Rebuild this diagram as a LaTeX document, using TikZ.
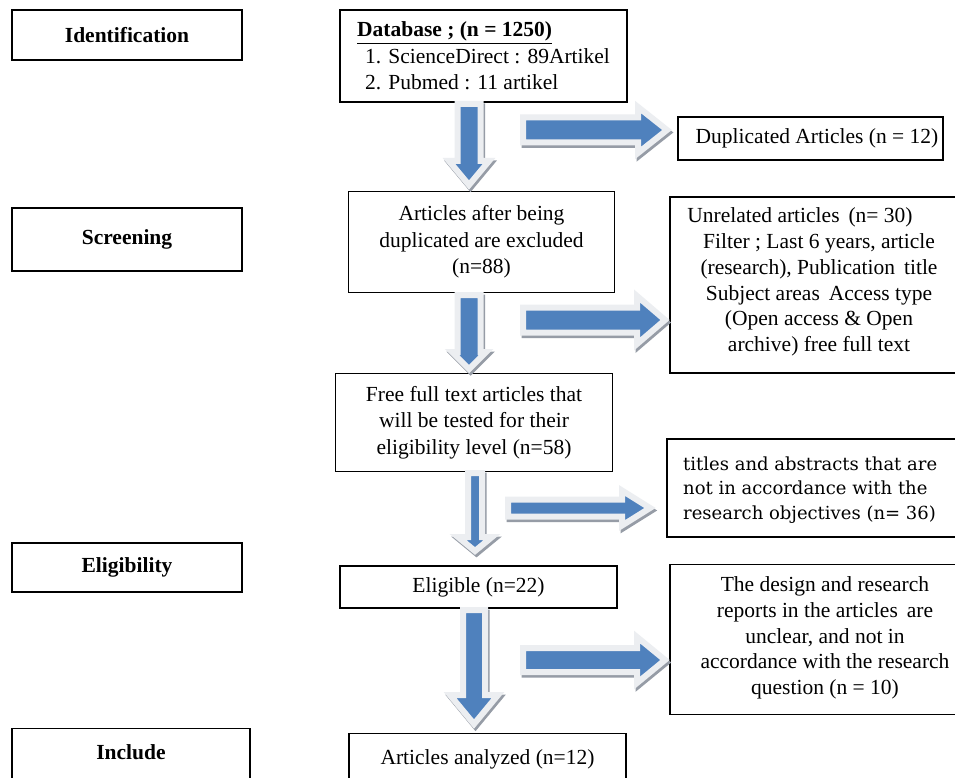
\documentclass[tikz,border=0pt]{standalone}
\usepackage{fontspec}
\setmainfont{Liberation Serif}
\newfontfamily\slabfont{DejaVu Serif}
\definecolor{arrblue}{RGB}{79,129,189}
\definecolor{arredge}{RGB}{236,238,241}
\definecolor{arrshade}{RGB}{150,156,166}
\newcommand\DArrow[6]{% cx, y top, y tip, shaft half, head half, head length
  \path[arrshadow] (#1-#4,#2) -- (#1-#4,#3-#6) -- (#1-#5,#3-#6) -- (#1,#3) -- (#1+#5,#3-#6) -- (#1+#4,#3-#6) -- (#1+#4,#2) -- cycle;
  \path[arrbody] (#1-#4,#2) -- (#1-#4,#3-#6) -- (#1-#5,#3-#6) -- (#1,#3) -- (#1+#5,#3-#6) -- (#1+#4,#3-#6) -- (#1+#4,#2) -- cycle;
}
\newcommand\RArrow[6]{% x left, x tip, cy, shaft half, head half, head length
  \path[arrshadow] (#1,#3-#4) -- (#2-#6,#3-#4) -- (#2-#6,#3-#5) -- (#2,#3) -- (#2-#6,#3+#5) -- (#2-#6,#3+#4) -- (#1,#3+#4) -- cycle;
  \path[arrbody] (#1,#3-#4) -- (#2-#6,#3-#4) -- (#2-#6,#3-#5) -- (#2,#3) -- (#2-#6,#3+#5) -- (#2-#6,#3+#4) -- (#1,#3+#4) -- cycle;
}
\begin{document}
\begin{tikzpicture}[x=1pt,y=-1pt,
  box/.style={draw=black, line width=1.1pt, inner sep=0pt, align=center,
    font=\fontsize{21.5}{26.5}\selectfont},
  sidebox/.style={box, minimum width=230pt, font=\bfseries\fontsize{21.5}{24}\selectfont},
  txt/.style={inner sep=0pt, align=center, font=\fontsize{21.5}{25.8}\selectfont},
  arrbody/.style={fill=arrblue, draw=arredge, line width=6pt, line join=miter, miter limit=3},
  arrshadow/.style={fill=arrshade, draw=arrshade, line width=6pt, line join=miter, miter limit=3, shift={(1.5,2.5)}}]
\useasboundingbox (0,0) rectangle (955,778);
\clip (0,0) rectangle (955,778);
\fill[white] (0,0) rectangle (955,778);

% left stage labels
\node[sidebox, minimum height=50pt] (ident) at (127,35) {Identification};
\node[sidebox, minimum height=63pt] (screen) at (127,239.5) {Screening};
\node[sidebox, minimum height=49pt] (elig) at (127,567.5) {Eligibility};
\node[sidebox, minimum width=238pt, minimum height=62pt, anchor=north, text depth=16pt] (incl) at (131,728) {Include};

% centre column
\node[box, minimum width=287pt, minimum height=92pt, align=left] (db) at (483.5,56)
  {\underline{\textbf{Database ; (n = 1250)}}\\
   \hspace*{8pt}1. ScienceDirect : 89Artikel\\
   \hspace*{8pt}2. Pubmed : 11 artikel};
\node[box, minimum width=266pt, minimum height=101pt] (dup) at (481.5,242)
  {Articles after being\\duplicated are excluded\\(n=88)};
\node[box, minimum width=277pt, minimum height=98pt] (fft) at (474,422.5)
  {Free full text articles that\\will be tested for their\\eligibility level (n=58)};
\node[box, minimum width=277pt, minimum height=42pt] (eli) at (478.5,587) {Eligible (n=22)};
\node[box, minimum width=277pt, minimum height=62pt, anchor=north, text depth=16pt] (ana) at (487.5,733)
  {Articles analyzed (n=12)};

% right column
\node[box, minimum width=265pt, minimum height=43pt] (dupa) at (810.5,138.5) {};
\node[txt] (dupaT) at (817,138.5) {Duplicated Articles (n = 12)};

\node[box, minimum width=286pt, minimum height=176pt] (unrel) at (813,285) {};
\node[txt] (unrelT) at (819,282)
  {Unrelated articles\, (n= 30)\hspace*{38pt}\\
   Filter ; Last 6 years, article\\
   (research), Publication\, title\\
   Subject areas\, Access type\\
   (Open access \& Open\\
   archive) free full text};

\node[box, minimum width=289pt, minimum height=98pt] (titl) at (811.5,488) {};
\node[inner sep=0pt, align=left, anchor=west, font=\slabfont\fontsize{18}{24.5}\selectfont] (titlT) at (683,490)
  {titles and abstracts that are\\not in accordance with the\\research objectives (n= 36)};

\node[box, minimum width=286pt, minimum height=150pt] (design) at (813,639.5) {};
\node[txt] (designT) at (825,638)
  {The design and research\\reports in the articles\, are\\unclear, and not in\\accordance with the research\\question (n = 10)};

% block arrows
\DArrow{469}{104}{185}{11.5}{20}{24}
\RArrow{523}{667}{130}{12.5}{23}{29}
\DArrow{469}{295}{369}{11.5}{17}{17}
\RArrow{523}{665}{320}{12.5}{24}{28}
\DArrow{475}{473}{551}{7}{17}{14}
\RArrow{508}{650}{508}{8.5}{17.5}{28}
\DArrow{474}{610}{724}{11}{24}{29}
\RArrow{523}{665}{660}{12}{23}{28}
\end{tikzpicture}
\end{document}
